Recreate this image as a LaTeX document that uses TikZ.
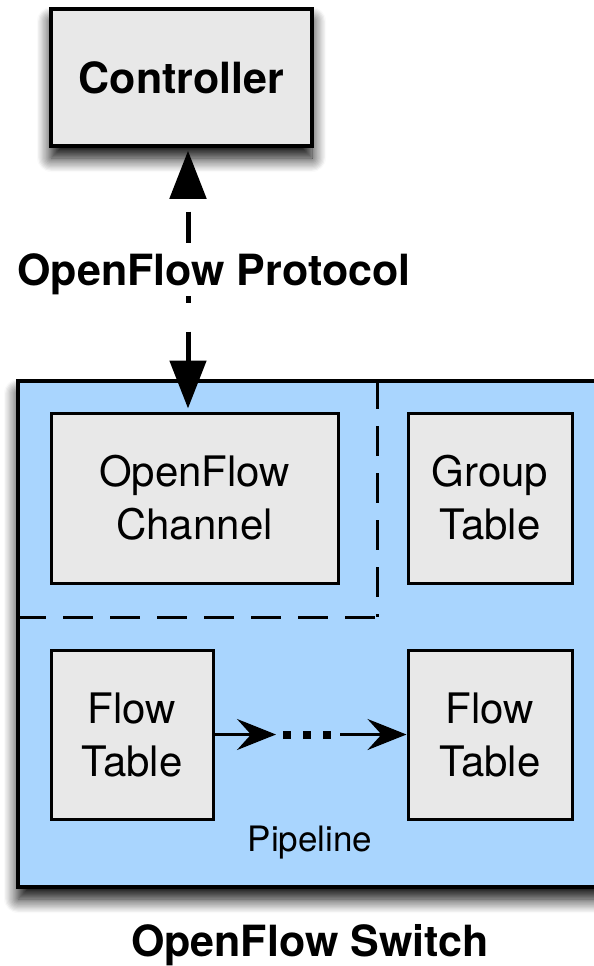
\documentclass[tikz,border=0pt]{standalone}
\usepackage{fontspec}
\setmainfont{TeX Gyre Heros}
\usetikzlibrary{arrows.meta,shadows.blur}
\definecolor{swblue}{HTML}{A9D5FE}
\definecolor{boxgray}{HTML}{E8E8E8}
\begin{document}
\begin{tikzpicture}[x=1pt,y=1pt,
  graybox/.style={draw=black, line width=3pt, fill=boxgray, inner sep=0pt, align=center,
    font=\fontsize{42}{53}\selectfont},
  ctrlbox/.style={draw=black, line width=3.5pt, fill=boxgray, inner sep=0pt,
    font=\fontsize{43}{53}\selectfont\bfseries,
    blur shadow={shadow xshift=0pt, shadow yshift=-12pt, shadow blur radius=14pt,
      shadow blur steps=12, shadow opacity=100}},
  switchbox/.style={draw=black, line width=3.5pt, fill=swblue, inner sep=0pt,
    blur shadow={shadow xshift=0pt, shadow yshift=-12pt, shadow blur radius=14pt,
      shadow blur steps=12, shadow opacity=100}},
  sepline/.style={line width=3pt, dash pattern=on 30pt off 17pt},
  protoarrow/.style={line width=5pt, dash pattern=on 31pt off 29pt, dash phase=46pt,
    {Triangle[length=48pt,width=36pt]}-{Triangle[length=48pt,width=36pt]},
    shorten <=3pt, shorten >=3pt},
  flowarrow/.style={line width=3pt, -{Stealth[length=39pt,width=31pt,inset=14pt]}},
  dotline/.style={line width=8pt, dash pattern=on 8pt off 12pt},
  biglabel/.style={font=\fontsize{43}{53}\selectfont\bfseries, inner sep=0pt}
]
\useasboundingbox (0,0) rectangle (594,-966);
\clip (0,0) rectangle (594,-966);

% switch
\node[switchbox, minimum width=602pt, minimum height=506pt] (sw) at (319,-634) {};

% controller
\node[ctrlbox, minimum width=261pt, minimum height=137pt] (ctrl) at (181.5,-77.5) {Controller};

% inner boxes
\node[graybox, minimum width=287pt, minimum height=170pt] (chan) at (194.5,-498) {OpenFlow\\Channel};
\node[graybox, minimum width=164pt, minimum height=170pt] (grp) at (490,-498) {Group\\Table};
\node[graybox, minimum width=162pt, minimum height=169pt] (ft1) at (132,-734.5) {Flow\\Table};
\node[graybox, minimum width=164pt, minimum height=169pt] (ft2) at (490,-734.5) {Flow\\Table};

% separators
\coordinate (dv) at (377,-617);
\draw[sepline] (sw.north -| dv) -- (dv);
\draw[sepline] (sw.west |- dv) -- (dv);

% protocol arrow
\coordinate (ax) at (188,0);
\draw[protoarrow] (ctrl.south -| ax) -- (chan.north -| ax);
\node[biglabel, fill=white, inner ysep=2pt, anchor=base] (proto) at (214,-285) {OpenFlow Protocol};

% pipeline arrows
\coordinate (a1) at (276,-734.5);
\coordinate (d1) at (283,-734.5);
\coordinate (d2) at (331,-734.5);
\coordinate (a2) at (340,-734.5);
\draw[flowarrow] (ft1.east) -- (a1);
\draw[dotline] (d1) -- (d2);
\draw[flowarrow] (a2) -- (ft2.west);

\node[font=\fontsize{35}{40}\selectfont, inner sep=0pt, anchor=base] (pl) at (310,-851) {Pipeline};
\node[biglabel, anchor=base] (swl) at (310,-956) {OpenFlow Switch};
\end{tikzpicture}
\end{document}
